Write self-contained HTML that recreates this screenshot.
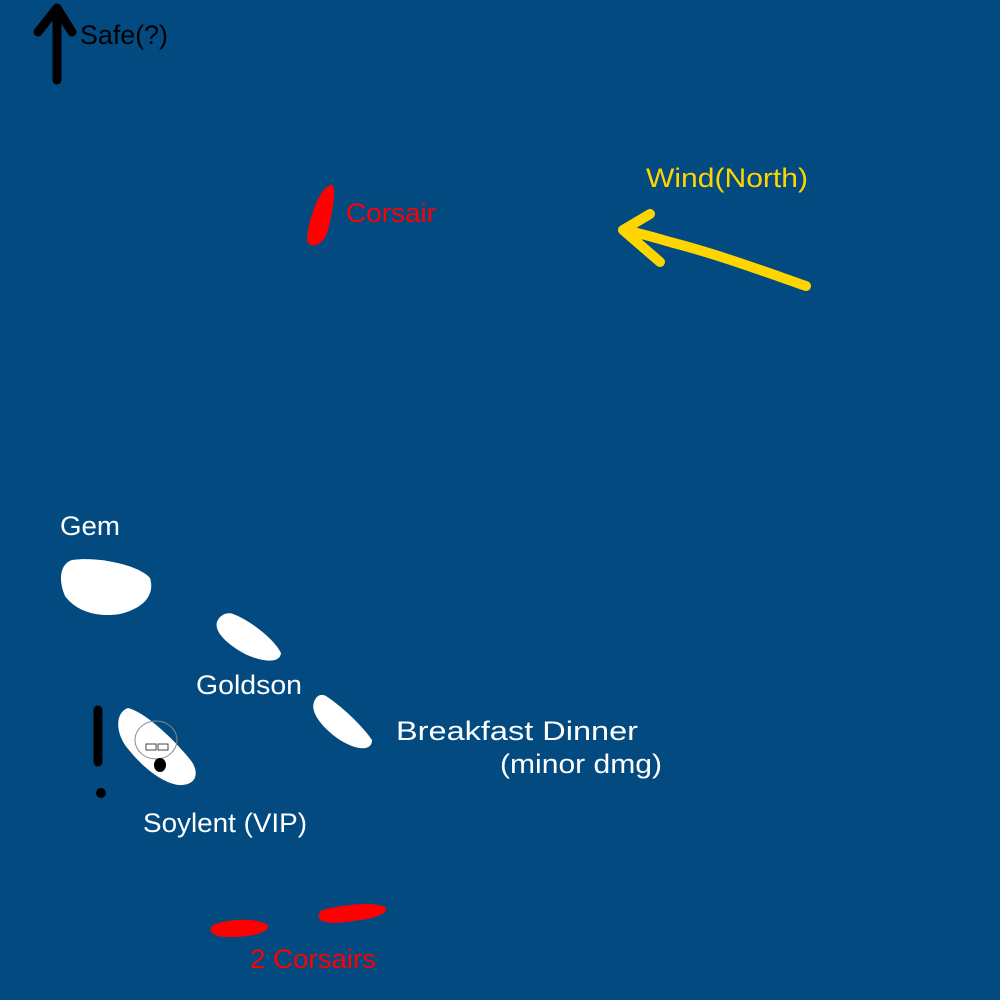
<!DOCTYPE html>
<html><head><style>html,body{margin:0;padding:0;background:#024a80;}svg{display:block}</style></head>
<body>
<svg width="1000" height="1000" viewBox="0 0 1000 1000" xmlns="http://www.w3.org/2000/svg">
<rect width="1000" height="1000" fill="#024a80"/>
<g font-family="Liberation Sans, sans-serif" font-size="27">
<path d="M57 80 L57 8 M38 32 L57 8 L72 32" stroke="#000" stroke-width="9" fill="none" stroke-linecap="round" stroke-linejoin="round"/>
<text x="80" y="44" fill="#000" textLength="88" lengthAdjust="spacingAndGlyphs">Safe(?)</text>
<path d="M331 185 C337 184 334 205 328 230 C324 246 309 250 307 240 C307 225 318 188 331 185Z" fill="#ff0000"/>
<text x="346" y="222" fill="#ff0000" textLength="90" lengthAdjust="spacingAndGlyphs">Corsair</text>
<text x="646" y="187" fill="#ffd500" textLength="162" lengthAdjust="spacingAndGlyphs">Wind(North)</text>
<path d="M806 286 C760 270 720 255 670 242 C650 236 635 232 623 230 M650 214 L623 230 L660 262" stroke="#ffd500" stroke-width="10" fill="none" stroke-linecap="round" stroke-linejoin="round"/>
<text x="60" y="535" fill="#fff" textLength="60" lengthAdjust="spacingAndGlyphs">Gem</text>
<path d="M72 560 C100 556 140 566 150 578 C155 594 145 608 120 614 C95 618 75 610 65 596 C58 580 60 564 72 560Z" fill="#fff"/>
<path d="M233 614 C250 620 275 640 281 653 C280 664 262 662 245 654 C228 645 214 632 217 622 C220 614 228 612 233 614Z" fill="#fff"/>
<text x="196" y="694" fill="#fff" textLength="106" lengthAdjust="spacingAndGlyphs">Goldson</text>
<path d="M326 696 C340 705 362 725 372 740 C372 752 356 750 340 740 C322 728 310 712 314 702 C317 694 322 694 326 696Z" fill="#fff"/>
<text x="396" y="740" fill="#fff" textLength="242" lengthAdjust="spacingAndGlyphs">Breakfast Dinner</text>
<text x="500" y="773" fill="#fff" textLength="162" lengthAdjust="spacingAndGlyphs">(minor dmg)</text>
<path d="M128 708 C145 712 175 740 192 762 C200 775 195 786 178 785 C160 782 140 765 125 745 C115 730 116 712 128 708Z" fill="#fff"/>
<ellipse cx="156" cy="740" rx="21" ry="19" fill="none" stroke="#888" stroke-width="1"/>
<rect x="146" y="744" width="10" height="6" fill="none" stroke="#444" stroke-width="1"/>
<rect x="158" y="744" width="10" height="6" fill="none" stroke="#444" stroke-width="1"/>
<ellipse cx="160" cy="765" rx="6" ry="7" fill="#000"/>
<path d="M98 710 L98 762" stroke="#000" stroke-width="9" stroke-linecap="round"/>
<circle cx="101" cy="793" r="5" fill="#000"/>
<text x="143" y="832" fill="#fff" textLength="164" lengthAdjust="spacingAndGlyphs">Soylent (VIP)</text>
<path d="M213 925 C230 918 258 918 268 925 C270 933 250 937 232 937 C215 938 206 932 213 925Z" fill="#ff0000"/>
<path d="M322 910 C345 904 378 901 386 908 C388 916 365 920 345 922 C325 925 312 920 322 910Z" fill="#ff0000"/>
<text x="250" y="968" fill="#ff0000" textLength="126" lengthAdjust="spacingAndGlyphs">2 Corsairs</text>
</g>
</svg>
</body></html>
